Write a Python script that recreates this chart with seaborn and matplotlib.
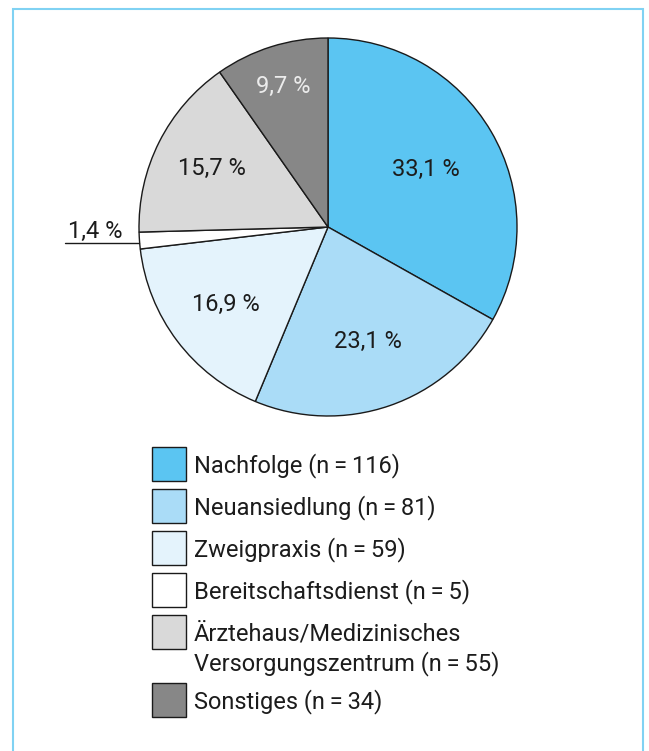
import matplotlib
matplotlib.use("Agg")
import matplotlib.pyplot as plt
from matplotlib.patches import Rectangle
import numpy as np
import seaborn as sns

# Data
categories = ["Nachfolge", "Neuansiedlung", "Zweigpraxis", "Bereitschaftsdienst",
              "Ärztehaus/Medizinisches\nVersorgungszentrum", "Sonstiges"]
counts = [116, 81, 59, 5, 55, 34]
pct_labels = ["33,1 %", "23,1 %", "16,9 %", "1,4 %", "15,7 %", "9,7 %"]
hex_colors = ["#5bc5f2", "#aadcf7", "#e4f3fc", "#ffffff", "#d9d9d9", "#878787"]

sns.set_theme(style="white")
palette = sns.color_palette(hex_colors)
plt.rcParams["font.family"] = ["Roboto", "DejaVu Sans"]

W, H = 649, 751
fig = plt.figure(figsize=(W / 100, H / 100), dpi=100)
ax = fig.add_axes([0, 0, 1, 1])

TEXT = "#1c1c1c"
FS = 17
WEIGHT = "normal"

def Y(y):
    # pixel row (top-down) -> axis coordinate (bottom-up)
    return H - y

cx, cy, R = 328, 227, 189
wedges, _ = ax.pie(counts, colors=palette, startangle=90, counterclock=False,
                   center=(cx, Y(cy)), radius=R,
                   wedgeprops=dict(edgecolor="#1a1a1a", linewidth=1.0))
ax.set_xlim(0, W)
ax.set_ylim(0, H)
ax.set_aspect("equal")
ax.axis("off")

# Percentage labels inside the slices
label_r = [0.60, 0.64, 0.68, None, 0.69, 0.78]
label_col = [TEXT, TEXT, TEXT, TEXT, TEXT, "#ececec"]
for w, lab, fr, col in zip(wedges, pct_labels, label_r, label_col):
    mid = np.deg2rad((w.theta1 + w.theta2) / 2)
    if fr is None:
        # small slice: label outside with a horizontal leader line
        ex = cx + R * np.cos(mid)
        ey = Y(cy) + R * np.sin(mid) - 2
        ax.plot([65, ex], [ey, ey], color="#1a1a1a", lw=1.0)
        ax.text(122, ey + 5, lab, ha="right", va="baseline", fontsize=FS,
                color=TEXT, fontweight=WEIGHT)
        continue
    x = cx + fr * R * np.cos(mid)
    y = Y(cy) + fr * R * np.sin(mid)
    ax.text(x, y, lab, ha="center", va="center", fontsize=FS, color=col,
            fontweight=WEIGHT)

# Legend
top = 447
box = 34
for cat, n, col in zip(categories, counts, palette):
    lines = cat.split("\n")
    lines[-1] = f"{lines[-1]} (n\u2009=\u2009{n})"
    ax.add_patch(Rectangle((152, Y(top + box)), box, box, facecolor=col,
                           edgecolor="#1a1a1a", linewidth=1.0))
    for k, line in enumerate(lines):
        ax.text(194, Y(top + 25 + 30 * k), line, ha="left", va="baseline",
                fontsize=FS, color=TEXT, fontweight=WEIGHT)
    top += 42 + 26 * (len(lines) - 1)

# Light blue frame, open at the bottom
ax.add_patch(Rectangle((12.5, Y(770)), 643 - 12.5, 770 - 8.5, fill=False,
                       edgecolor="#80d2f3", linewidth=1.5, clip_on=False))

fig.savefig("out.png", dpi=100)
